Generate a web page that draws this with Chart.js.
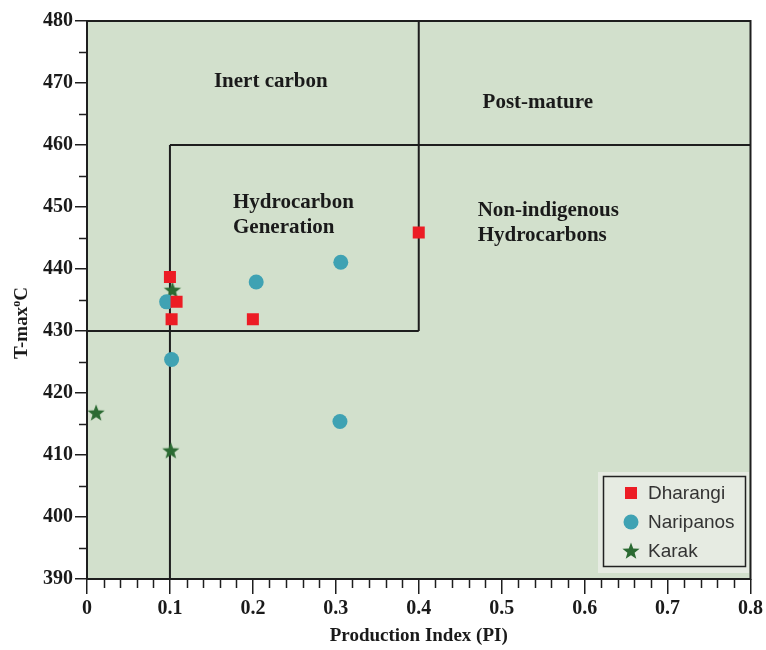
<!DOCTYPE html>
<html>
<head>
    <title>T-max vs Production Index</title>
    <script src="https://cdn.jsdelivr.net/npm/chart.js"></script>
    <style>
        body { margin: 0; background: #fff; }
        #wrap { width: 766px; height: 650px; }
    </style>
</head>
<body>
    <div id="wrap"><canvas id="piChart"></canvas></div>

    <script>
        // sample values
        var dharangiPI = [0.1, 0.108, 0.102, 0.2, 0.4];
        var dharangiTmax = [438.7, 434.7, 431.9, 431.9, 445.9];
        var naripanosPI = [0.306, 0.204, 0.096, 0.102, 0.305];
        var naripanosTmax = [441.1, 437.9, 434.7, 425.4, 415.4];
        var karakPI = [0.103, 0.011, 0.101];
        var karakTmax = [436.6, 416.8, 410.7];

        // field boundaries (PI from/to, Tmax from/to)
        var boundaryPI = [[0.1, 0.1], [0, 0.4], [0.4, 0.4], [0.1, 0.8]];
        var boundaryTmax = [[390, 460], [430, 430], [430, 480], [460, 460]];

        var xTicks = [0, 0.1, 0.2, 0.3, 0.4, 0.5, 0.6, 0.7, 0.8];
        var yTicks = [390, 400, 410, 420, 430, 440, 450, 460, 470, 480];

        var regionLabels = [
            { text: 'Inert carbon', x: 0.153, y: 470.3 },
            { text: 'Post-mature', x: 0.477, y: 466.9 },
            { text: 'Hydrocarbon', x: 0.176, y: 450.7 },
            { text: 'Generation', x: 0.176, y: 446.7 },
            { text: 'Non-indigenous', x: 0.471, y: 449.4 },
            { text: 'Hydrocarbons', x: 0.471, y: 445.4 }
        ];

        var serif = '"Liberation Serif", "Times New Roman", serif';

        function toPoints(xs, ys) {
            var pts = [];
            for (var i = 0; i < xs.length; i++) pts.push({ x: xs[i], y: ys[i] });
            return pts;
        }

        // filled five point star for Karak
        var star = document.createElement('canvas');
        star.width = 20; star.height = 20;
        (function () {
            var c = star.getContext('2d');
            c.beginPath();
            for (var i = 0; i < 10; i++) {
                var r = i % 2 === 0 ? 9 : 3.8;
                var a = -Math.PI / 2 + i * Math.PI / 5;
                c.lineTo(10 + r * Math.cos(a), 10.5 + r * Math.sin(a));
            }
            c.closePath();
            c.fillStyle = '#2b6a32';
            c.fill();
        })();

        var datasets = [
            { label: 'Dharangi', data: toPoints(dharangiPI, dharangiTmax), pointStyle: 'rect',
              pointRadius: 8.5, backgroundColor: '#ec1c24', borderWidth: 0, order: 0 },
            { label: 'Naripanos', data: toPoints(naripanosPI, naripanosTmax), pointStyle: 'circle',
              pointRadius: 7.5, backgroundColor: '#3fa2b3', borderWidth: 0, order: 1 },
            { label: 'Karak', data: toPoints(karakPI, karakTmax), pointStyle: star,
              pointRadius: 9, backgroundColor: '#2b6a32', borderWidth: 0, order: 2 }
        ];
        for (var b = 0; b < boundaryPI.length; b++) {
            datasets.push({
                label: 'boundary' + b,
                data: toPoints(boundaryPI[b], boundaryTmax[b]),
                showLine: true, pointRadius: 0, borderColor: '#1e1e1e', borderWidth: 2,
                order: 10
            });
        }

        var plotBg = {
            id: 'plotBg',
            beforeDraw: function (chart) {
                var a = chart.chartArea, ctx = chart.ctx;
                ctx.save();
                ctx.fillStyle = '#d2e0cc';
                ctx.fillRect(a.left, a.top, a.right - a.left, a.bottom - a.top);
                ctx.restore();
            },
            afterDraw: function (chart) {
                var a = chart.chartArea, ctx = chart.ctx;
                var xs = chart.scales.x, ys = chart.scales.y;
                ctx.save();
                // minor ticks
                ctx.strokeStyle = '#1e1e1e';
                ctx.lineWidth = 1.5;
                ctx.beginPath();
                for (var v = 395; v < 480; v += 10) {
                    var py = Math.round(ys.getPixelForValue(v)) + 0.5;
                    ctx.moveTo(a.left - 8, py); ctx.lineTo(a.left, py);
                }
                for (var k = 1; k < 40; k++) {
                    if (k % 5 === 0) continue;
                    var px = Math.round(xs.getPixelForValue(k * 0.02)) + 0.5;
                    ctx.moveTo(px, a.bottom); ctx.lineTo(px, a.bottom + 9);
                }
                ctx.stroke();
                // frame
                ctx.lineWidth = 2;
                ctx.strokeRect(a.left, a.top, a.right - a.left, a.bottom - a.top);

                // y axis title with superscript o
                ctx.fillStyle = '#1a1a1a';
                ctx.textBaseline = 'alphabetic';
                ctx.save();
                ctx.translate(27, 323);
                ctx.rotate(-Math.PI / 2);
                var big = 'bold 19px ' + serif, small = 'bold 12px ' + serif;
                ctx.font = big;
                var w1 = ctx.measureText('T-max').width, w3 = ctx.measureText('C').width;
                ctx.font = small;
                var w2 = ctx.measureText('o').width;
                var x0 = -(w1 + w2 + w3) / 2;
                ctx.font = big; ctx.textAlign = 'left';
                ctx.fillText('T-max', x0, 0);
                ctx.font = small;
                ctx.fillText('o', x0 + w1, -7);
                ctx.font = big;
                ctx.fillText('C', x0 + w1 + w2, 0);
                ctx.restore();

                // region labels
                ctx.font = 'bold 21px ' + serif;
                ctx.textAlign = 'left';
                ctx.textBaseline = 'middle';
                regionLabels.forEach(function (l) {
                    ctx.fillText(l.text, xs.getPixelForValue(l.x), ys.getPixelForValue(l.y));
                });

                // legend box
                ctx.fillStyle = '#e6ebe2';
                ctx.fillRect(598, 472, 151, 101);
                ctx.strokeStyle = '#222';
                ctx.lineWidth = 1.5;
                ctx.strokeRect(603.5, 476.5, 142, 90);
                ctx.font = '19px "Liberation Sans", Arial, sans-serif';
                var rows = [493, 522, 551];
                var mx = 631;
                ctx.fillStyle = '#ec1c24';
                ctx.fillRect(mx - 6, rows[0] - 6, 12, 12);
                ctx.fillStyle = '#3fa2b3';
                ctx.beginPath(); ctx.arc(mx, rows[1], 7.5, 0, Math.PI * 2); ctx.fill();
                ctx.drawImage(star, mx - 10, rows[2] - 10);
                ctx.fillStyle = '#333';
                for (var i = 0; i < 3; i++) ctx.fillText(datasets[i].label, 648, rows[i] + 1);
                ctx.restore();
            }
        };

        new Chart(document.getElementById('piChart'), {
            type: 'scatter',
            data: { datasets: datasets },
            options: {
                responsive: true,
                maintainAspectRatio: false,
                animation: false,
                layout: { padding: { top: 21, right: 12, left: 0, bottom: 0 } },
                plugins: {
                    legend: { display: false },
                    tooltip: { enabled: false }
                },
                scales: {
                    x: {
                        type: 'linear', min: 0, max: 0.8,
                        afterBuildTicks: function (s) { s.ticks = xTicks.map(function (v) { return { value: v }; }); },
                        afterFit: function (s) { s.height = 71; },
                        grid: { drawOnChartArea: false, tickLength: 15, color: '#1e1e1e', lineWidth: 1.5 },
                        border: { display: false },
                        ticks: {
                            padding: 3, color: '#1a1a1a', maxRotation: 0,
                            font: { family: serif, size: 20, weight: 'bold' },
                            callback: function (v) { return String(Number(v.toFixed(1))); }
                        },
                        title: {
                            display: true, text: 'Production Index (PI)', color: '#1a1a1a',
                            font: { family: serif, size: 19, weight: 'bold' },
                            padding: { top: 0, bottom: 3 }
                        }
                    },
                    y: {
                        type: 'linear', min: 390, max: 480,
                        afterBuildTicks: function (s) { s.ticks = yTicks.map(function (v) { return { value: v }; }); },
                        afterFit: function (s) { s.width = 87; },
                        grid: { drawOnChartArea: false, tickLength: 12, color: '#1e1e1e', lineWidth: 1.5 },
                        border: { display: false },
                        ticks: {
                            padding: 2, color: '#1a1a1a',
                            font: { family: serif, size: 20, weight: 'bold' }
                        },
                        title: { display: false }
                    }
                }
            },
            plugins: [plotBg]
        });
    </script>
</body>
</html>
